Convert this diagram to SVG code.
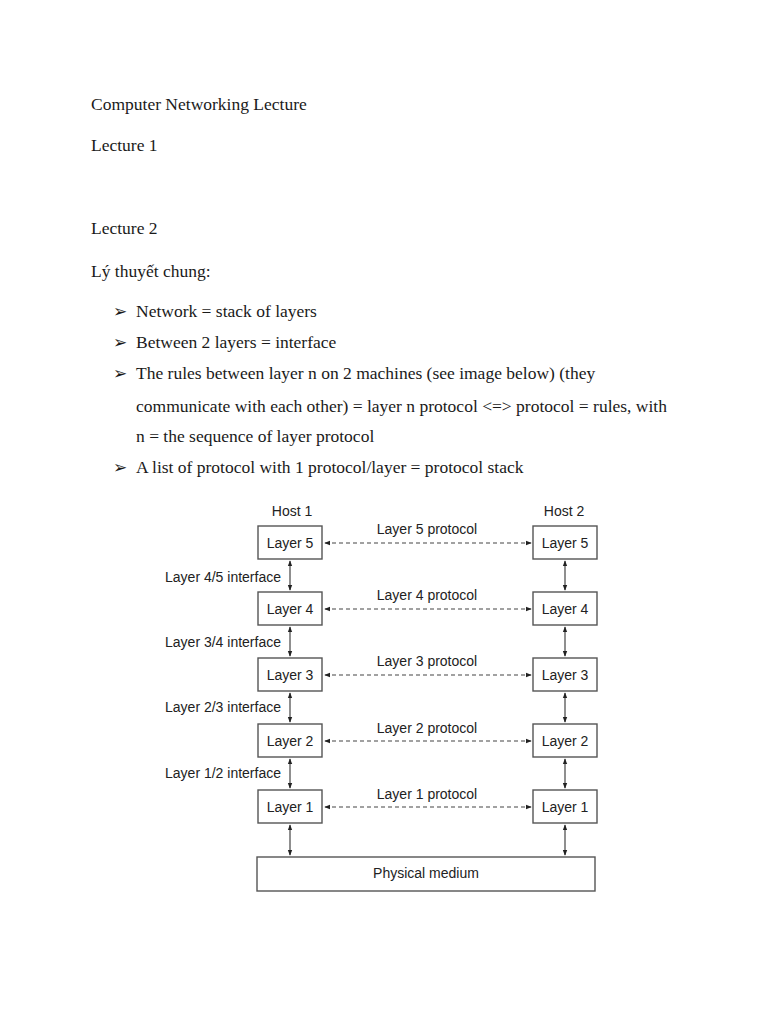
<svg xmlns="http://www.w3.org/2000/svg" width="768" height="1024" viewBox="0 0 768 1024">
<style>
.doc{font-family:"Liberation Serif","Times New Roman",serif;font-size:17.5px;fill:#1a1a1a}
.bul{font-family:"DejaVu Sans",sans-serif;font-size:17px;fill:#1a1a1a}
.lbl{font-family:"Liberation Sans",Arial,sans-serif;font-size:14px;fill:#222}
.box{fill:#fff;stroke:#555;stroke-width:1.4}
.dash{stroke:#444;stroke-width:1.2;stroke-dasharray:4,3;fill:none}
.v{stroke:#333;stroke-width:1.1;fill:none}
</style>
<defs>
<marker id="ah" viewBox="0 0 8 8" refX="7" refY="4" markerWidth="6" markerHeight="6" orient="auto-start-reverse" markerUnits="userSpaceOnUse">
<path d="M0,1 L8,4 L0,7 z" fill="#222"/>
</marker>
</defs>
<rect width="768" height="1024" fill="#fff"/>
<g id="text">
<text class="doc" x="91" y="110">Computer Networking Lecture</text>
<text class="doc" x="91" y="151">Lecture 1</text>
<text class="doc" x="91" y="234">Lecture 2</text>
<text class="doc" x="91" y="277">Lý thuyết chung:</text>
<text class="bul" x="113" y="317">➢</text>
<text class="doc" x="136" y="317">Network = stack of layers</text>
<text class="bul" x="113" y="348">➢</text>
<text class="doc" x="136" y="348">Between 2 layers = interface</text>
<text class="bul" x="113" y="379">➢</text>
<text class="doc" x="136" y="379">The rules between layer n on 2 machines (see image below) (they</text>
<text class="doc" x="136" y="412">communicate with each other) = layer n protocol &lt;=&gt; protocol = rules, with</text>
<text class="doc" x="136" y="442">n = the sequence of layer protocol</text>
<text class="bul" x="113" y="473">➢</text>
<text class="doc" x="136" y="473">A list of protocol with 1 protocol/layer = protocol stack</text>
</g>
<g id="labels">
<text class="lbl" x="292" y="516" text-anchor="middle" font-size="14.5">Host 1</text>
<text class="lbl" x="564" y="516" text-anchor="middle" font-size="14.5">Host 2</text>
<text class="lbl" x="427" y="534" text-anchor="middle">Layer 5 protocol</text>
<text class="lbl" x="427" y="600" text-anchor="middle">Layer 4 protocol</text>
<text class="lbl" x="427" y="666" text-anchor="middle">Layer 3 protocol</text>
<text class="lbl" x="427" y="733" text-anchor="middle">Layer 2 protocol</text>
<text class="lbl" x="427" y="799" text-anchor="middle">Layer 1 protocol</text>
<text class="lbl" x="281" y="582" text-anchor="end">Layer 4/5 interface</text>
<text class="lbl" x="281" y="647" text-anchor="end">Layer 3/4 interface</text>
<text class="lbl" x="281" y="712" text-anchor="end">Layer 2/3 interface</text>
<text class="lbl" x="281" y="778" text-anchor="end">Layer 1/2 interface</text>
</g>
<g id="host1">
<g id="h1l5"><rect class="box" x="258" y="526" width="64" height="33"/><text class="lbl" x="290" y="548" text-anchor="middle">Layer 5</text></g>
<g id="h1l4"><rect class="box" x="258" y="592" width="64" height="33"/><text class="lbl" x="290" y="614" text-anchor="middle">Layer 4</text></g>
<g id="h1l3"><rect class="box" x="258" y="658" width="64" height="33"/><text class="lbl" x="290" y="680" text-anchor="middle">Layer 3</text></g>
<g id="h1l2"><rect class="box" x="258" y="724" width="64" height="33"/><text class="lbl" x="290" y="746" text-anchor="middle">Layer 2</text></g>
<g id="h1l1"><rect class="box" x="258" y="790" width="64" height="33"/><text class="lbl" x="290" y="812" text-anchor="middle">Layer 1</text></g>
</g>
<g id="host2">
<g id="h2l5"><rect class="box" x="533" y="526" width="64" height="33"/><text class="lbl" x="565" y="548" text-anchor="middle">Layer 5</text></g>
<g id="h2l4"><rect class="box" x="533" y="592" width="64" height="33"/><text class="lbl" x="565" y="614" text-anchor="middle">Layer 4</text></g>
<g id="h2l3"><rect class="box" x="533" y="658" width="64" height="33"/><text class="lbl" x="565" y="680" text-anchor="middle">Layer 3</text></g>
<g id="h2l2"><rect class="box" x="533" y="724" width="64" height="33"/><text class="lbl" x="565" y="746" text-anchor="middle">Layer 2</text></g>
<g id="h2l1"><rect class="box" x="533" y="790" width="64" height="33"/><text class="lbl" x="565" y="812" text-anchor="middle">Layer 1</text></g>
</g>
<g id="physical"><rect class="box" x="257" y="857" width="338" height="34"/><text class="lbl" x="426" y="878" text-anchor="middle">Physical medium</text></g>
<g id="connectors">
<path class="dash" d="M325,543H531" marker-start="url(#ah)" marker-end="url(#ah)"/>
<path class="dash" d="M325,609H531" marker-start="url(#ah)" marker-end="url(#ah)"/>
<path class="dash" d="M325,675H531" marker-start="url(#ah)" marker-end="url(#ah)"/>
<path class="dash" d="M325,741H531" marker-start="url(#ah)" marker-end="url(#ah)"/>
<path class="dash" d="M325,807H531" marker-start="url(#ah)" marker-end="url(#ah)"/>
<path class="v" d="M290,561V590" marker-start="url(#ah)" marker-end="url(#ah)"/>
<path class="v" d="M290,627V656" marker-start="url(#ah)" marker-end="url(#ah)"/>
<path class="v" d="M290,693V722" marker-start="url(#ah)" marker-end="url(#ah)"/>
<path class="v" d="M290,759V788" marker-start="url(#ah)" marker-end="url(#ah)"/>
<path class="v" d="M290,825V855" marker-start="url(#ah)" marker-end="url(#ah)"/>
<path class="v" d="M565,561V590" marker-start="url(#ah)" marker-end="url(#ah)"/>
<path class="v" d="M565,627V656" marker-start="url(#ah)" marker-end="url(#ah)"/>
<path class="v" d="M565,693V722" marker-start="url(#ah)" marker-end="url(#ah)"/>
<path class="v" d="M565,759V788" marker-start="url(#ah)" marker-end="url(#ah)"/>
<path class="v" d="M565,825V855" marker-start="url(#ah)" marker-end="url(#ah)"/>
</g>
</svg>
